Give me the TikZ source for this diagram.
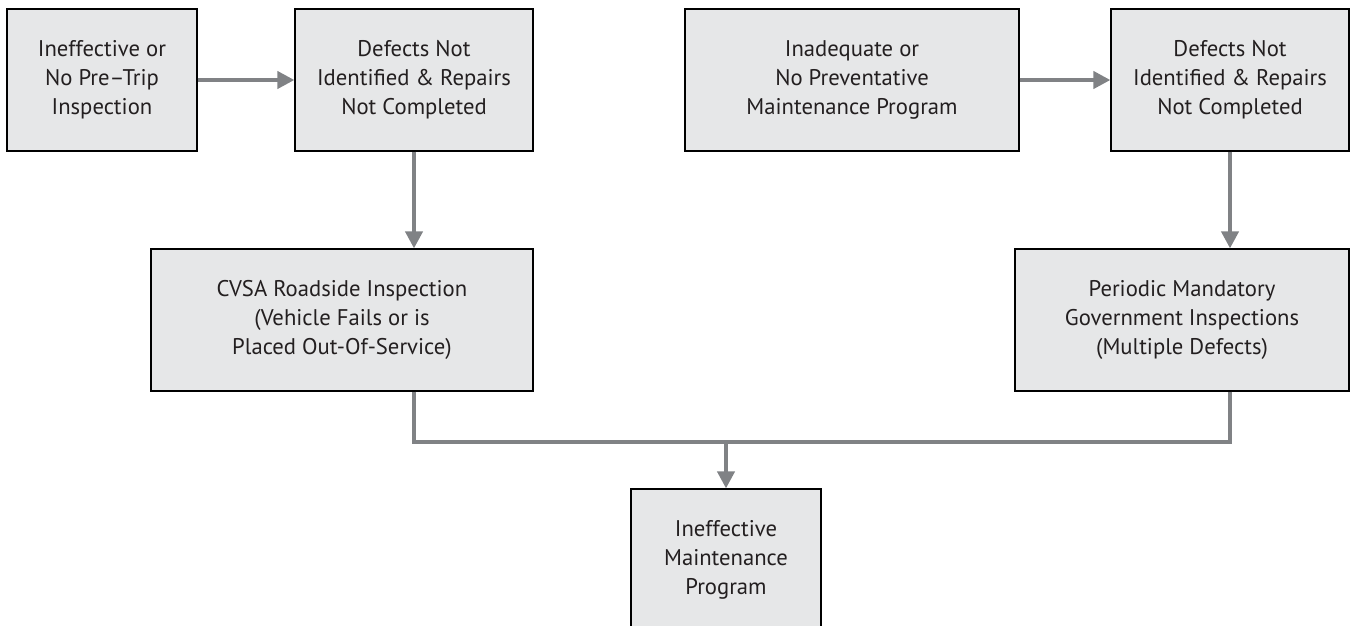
\documentclass[tikz,border=0pt]{standalone}
\usepackage{fontspec}
\setmainfont{PT Sans}
\usetikzlibrary{arrows.meta}
\definecolor{boxfill}{RGB}{230,231,232}
\definecolor{linkgray}{RGB}{128,130,133}
\definecolor{inktext}{RGB}{35,31,32}

\begin{document}
\begin{tikzpicture}
[every node/.style={inner sep=0pt},
 box/.style={rectangle, fill=boxfill, draw=black, line width=0.9pt, align=center, text=inktext, font=\fontsize{17}{21.75}\selectfont, minimum height=106.5pt},
 link/.style={line width=3pt, color=linkgray},
 arrow/.style={link, -{Triangle[length=12.75pt, width=12.75pt]}}]
\useasboundingbox (0pt, 0pt) rectangle (1013.25pt, -468.75pt);
\node (pretrip) [box, minimum width=142.5pt] at (76.5pt, -60pt) {Ineffective or\\No Pre--Trip\\Inspection};
\node (defectsA) [box, minimum width=178.5pt] at (310.5pt, -60pt) {Defects Not\\Identified \& Repairs\\Not Completed};
\node (prevent) [box, minimum width=250.5pt] at (639pt, -60pt) {Inadequate or\\No Preventative\\Maintenance Program};
\node (defectsB) [box, minimum width=178.5pt] at (922.5pt, -60pt) {Defects Not\\Identified \& Repairs\\Not Completed};
\node (cvsa) [box, minimum width=286.5pt] at (256.5pt, -240pt) {CVSA Roadside Inspection\\(Vehicle Fails or is\\Placed Out-Of-Service)};
\node (periodic) [box, minimum width=250.5pt] at (886.5pt, -240pt) {Periodic Mandatory\\Government Inspections\\(Multiple Defects)};
\node (maint) [box, minimum width=142.5pt] at (544.5pt, -420pt) {Ineffective\\Maintenance\\Program};
\coordinate (join) at (544.5pt, -331.5pt);
\draw [arrow] (pretrip) to (defectsA);
\draw [arrow] (prevent) to (defectsB);
\draw [arrow] (defectsA) to (defectsA |- cvsa.north);
\draw [arrow] (defectsB) to (defectsB |- periodic.north);
\draw [link] (defectsA |- cvsa.south) |- (join);
\draw [link] (defectsB |- periodic.south) |- (join);
\draw [arrow] (join) to (maint);
\end{tikzpicture}
\end{document}
